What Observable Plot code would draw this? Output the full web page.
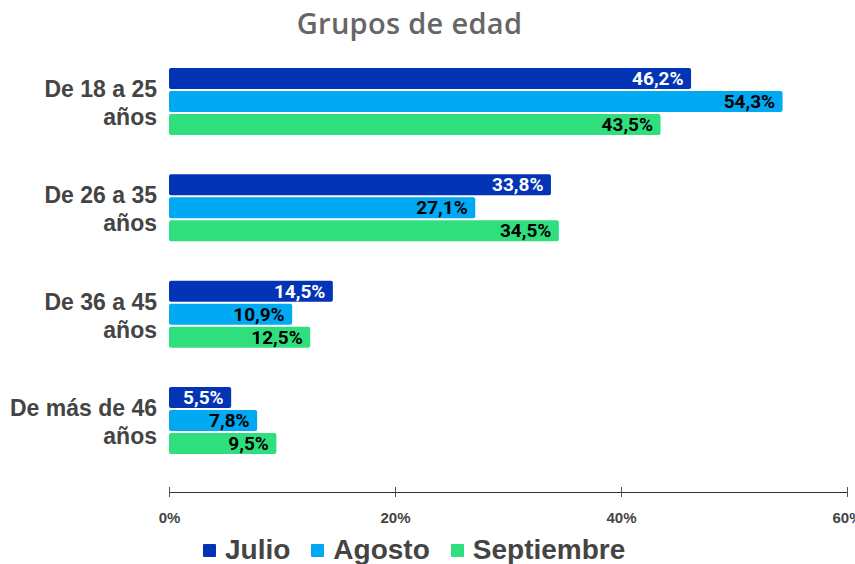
<!DOCTYPE html>
<html>
<head>
<meta charset="utf-8">
<script src="https://cdn.jsdelivr.net/npm/d3@7"></script>
<script src="https://cdn.jsdelivr.net/npm/@observablehq/plot@0.6"></script>
<style>
  html, body { margin: 0; padding: 0; background: #fff; }
  #root { position: relative; width: 855px; height: 564px; background: #fff; overflow: hidden; }
  #title { position: absolute; top: 8px; left: 0; width: 819px; text-align: center;
    font-family: "Open Sans", sans-serif; font-weight: 600; font-size: 29px; line-height: 29px; color: #666; letter-spacing: 0.3px; }
  #chart { position: absolute; top: 45px; left: 0; }
  #legend { position: absolute; top: 538px; left: 203px; display: flex; align-items: center;
    font-family: "Liberation Sans", Arial, sans-serif; font-weight: 700; font-size: 28px; line-height: 24px; color: #444; }
  .item { display: flex; align-items: center; margin-right: 21px; }
  .sw { width: 13px; height: 13px; margin-right: 9px; border-radius: 1px; }
</style>
</head>
<body>
<div id="root">
  <div id="title">Grupos de edad</div>
  <div id="chart"></div>
  <div id="legend"></div>
</div>
<script>
// ---- data ----
const groups = ["De 18 a 25\naños", "De 26 a 35\naños", "De 36 a 45\naños", "De más de 46\naños"];
const series = ["Julio", "Agosto", "Septiembre"];
const julio = [46.2, 33.8, 14.5, 5.5];
const agosto = [54.3, 27.1, 10.9, 7.8];
const septiembre = [43.5, 34.5, 12.5, 9.5];
const colors = ["#0334B5", "#00A9F1", "#2FDF7E"];
const xTicks = [0, 20, 40, 60];

const seriesValues = [julio, agosto, septiembre];
const rows = [];
groups.forEach((g, i) => series.forEach((s, j) => rows.push({group: g, series: s, value: seriesValues[j][i]})));
const fmt = v => v.toFixed(1).replace(".", ",") + "%";

const H = 490, MT = 21.67, MB = 43;
const band = (H - MT - MB) / groups.length;

const chart = Plot.plot({
  width: 855,
  height: H,
  marginLeft: 169,
  marginRight: 8,
  marginTop: MT,
  marginBottom: MB,
  style: {fontFamily: "'Liberation Sans', Arial, sans-serif", background: "#fff"},
  x: {domain: [0, 60], axis: null, label: null},
  y: {domain: series, axis: null, paddingInner: 2 / 23, paddingOuter: 0.855, align: 0.034, round: false},
  fy: {domain: groups, axis: null, padding: 0, round: false},
  color: {domain: series, range: colors},
  marks: [
    Plot.barX(rows, {fy: "group", y: "series", x: "value", fill: "series", rx: 2}),
    Plot.text(rows, {filter: d => d.series === series[0], fy: "group", y: "series", x: "value",
      text: d => fmt(d.value), textAnchor: "end", dx: -8, fill: "#fff",
      fontFamily: "Roboto", fontWeight: "bold", fontSize: 19}),
    Plot.text(rows, {filter: d => d.series !== series[0], fy: "group", y: "series", x: "value",
      text: d => fmt(d.value), textAnchor: "end", dx: -8, fill: "#000",
      fontFamily: "Roboto", fontWeight: "bold", fontSize: 19}),
    Plot.text(groups, {fy: d => d, y: () => series[1], x: () => 0, text: d => d,
      textAnchor: "end", lineAnchor: "middle", dx: -12.5, lineHeight: 28 / 23,
      fontSize: 23, fontWeight: "bold", fill: "#444"}),
    Plot.frame({anchor: "bottom", facetAnchor: "bottom", stroke: "#333"}),
    Plot.tickX(xTicks, {x: d => d, facetAnchor: "bottom", insetTop: band - 5, insetBottom: -5, stroke: "#555"}),
    Plot.axisX(xTicks, {tickSize: 0, tickPadding: 20, tickFormat: d => d + "%", facetAnchor: "bottom",
      label: null, fontSize: 15, fontWeight: "bold", fill: "#444"})
  ]
});
document.getElementById("chart").appendChild(chart);

const legend = document.getElementById("legend");
series.forEach((s, i) => {
  const it = document.createElement("div");
  it.className = "item";
  const sw = document.createElement("div");
  sw.className = "sw";
  sw.style.background = colors[i];
  const tx = document.createElement("span");
  tx.textContent = s;
  it.appendChild(sw); it.appendChild(tx);
  legend.appendChild(it);
});
</script>
</body>
</html>
